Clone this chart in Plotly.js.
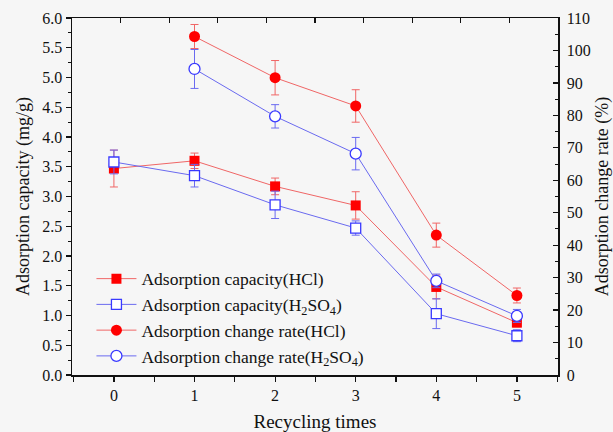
<!DOCTYPE html>
<html><head><meta charset="utf-8">
<script src="https://cdn.plot.ly/plotly-3.0.1.min.js"></script>
<style>html,body{margin:0;padding:0;background:#f6f6f6;}</style>
</head><body>
<div id="chart" style="width:613px;height:432px;"></div>
<script>
const cycles = [0, 1, 2, 3, 4, 5];
const capHCl = [3.47, 3.60, 3.17, 2.85, 1.48, 0.88];
const capHClErr = [0.31, 0.13, 0.14, 0.23, 0.20, 0.07];
const capH2SO4 = [3.58, 3.35, 2.86, 2.47, 1.03, 0.66];
const capH2SO4Err = [0.20, 0.19, 0.23, 0.12, 0.25, 0.10];
const rateCycles = [1, 2, 3, 4, 5];
const rateHCl = [104.3, 91.6, 82.9, 43.1, 24.5];
const rateHClErr = [3.7, 5.3, 5.0, 3.7, 2.3];
const rateH2SO4 = [94.3, 79.7, 68.2, 29.0, 18.2];
const rateH2SO4Err = [6.0, 3.6, 5.0, 2.1, 2.0];
const names = ['Adsorption capacity(HCl)', 'Adsorption capacity(H<sub>2</sub>SO<sub>4</sub>)',
               'Adsorption change rate(HCl)', 'Adsorption change rate(H<sub>2</sub>SO<sub>4</sub>)'];

const RED = '#ff0000', REDL = '#f06666', BLUE = '#3a3aff', BLUEL = '#6a6af0';
const F = 'Liberation Serif, Times New Roman, serif';

const traces = [
  {x: cycles, y: capHCl, name: names[0], type: 'scatter', mode: 'lines+markers',
   line: {color: REDL, width: 1}, marker: {symbol: 'square', size: 10, color: RED},
   error_y: {type: 'data', array: capHClErr, color: REDL, thickness: 1, width: 4}},
  {x: cycles, y: capH2SO4, name: names[1], type: 'scatter', mode: 'lines+markers',
   line: {color: BLUEL, width: 1}, marker: {symbol: 'square', size: 10, color: 'white', line: {color: BLUE, width: 1.3}},
   error_y: {type: 'data', array: capH2SO4Err, color: BLUEL, thickness: 1, width: 4}},
  {x: rateCycles, y: rateHCl, name: names[2], yaxis: 'y2', type: 'scatter', mode: 'lines+markers',
   line: {color: REDL, width: 1}, marker: {symbol: 'circle', size: 11, color: RED},
   error_y: {type: 'data', array: rateHClErr, color: REDL, thickness: 1, width: 4}},
  {x: rateCycles, y: rateH2SO4, name: names[3], yaxis: 'y2', type: 'scatter', mode: 'lines+markers',
   line: {color: BLUEL, width: 1}, marker: {symbol: 'circle', size: 11, color: 'white', line: {color: BLUE, width: 1.3}},
   error_y: {type: 'data', array: rateH2SO4Err, color: BLUEL, thickness: 1, width: 4}},
  {x: [0], y: [0], xaxis: 'x2', yaxis: 'y', type: 'scatter', mode: 'markers',
   marker: {opacity: 0}, showlegend: false, hoverinfo: 'skip'}
];

const layout = {
  width: 613, height: 432,
  margin: {l: 72, r: 55, t: 18, b: 57},
  paper_bgcolor: '#f6f6f6', plot_bgcolor: '#f6f6f6',
  font: {family: F, size: 16, color: '#111'},
  showlegend: true,
  legend: {x: 0.04, y: 0.32, xanchor: 'left', yanchor: 'top', bgcolor: 'rgba(0,0,0,0)',
           font: {family: F, size: 17.5, color: '#111'}, itemwidth: 40, tracegroupgap: 0},
  xaxis: {range: [-0.52, 5.51], tickvals: cycles, ticks: 'outside', ticklen: 5, tickwidth: 1.2,
          tickcolor: '#111', showline: true, linecolor: '#111', linewidth: 1.5, showgrid: false, zeroline: false,
          minor: {dtick: 0.5, ticks: 'outside', ticklen: 5, tickwidth: 1.2, tickcolor: '#111', showgrid: false},
          tickfont: {family: F, size: 16},
          title: {text: 'Recycling times', font: {family: F, size: 19}, standoff: 12}},
  xaxis2: {overlaying: 'x', side: 'top', anchor: 'y', range: [0, 10], dtick: 1, ticks: 'inside', ticklen: 5,
           tickwidth: 1.2, tickcolor: '#111', showticklabels: false, showline: true, linecolor: '#111',
           linewidth: 1.5, showgrid: false, zeroline: false},
  yaxis: {range: [0, 6], dtick: 0.5, tickformat: '.1f', ticks: 'outside', ticklen: 5, tickwidth: 1.2,
          tickcolor: '#111', showline: true, linecolor: '#111', linewidth: 1.5, showgrid: false, zeroline: false,
          minor: {dtick: 0.25, ticks: 'outside', ticklen: 3, tickwidth: 1, tickcolor: '#111', showgrid: false},
          tickfont: {family: F, size: 16},
          title: {text: 'Adsorption capacity (mg/g)', font: {family: F, size: 18}, standoff: 8}},
  yaxis2: {overlaying: 'y', side: 'right', anchor: 'x', range: [0, 110], dtick: 10, ticks: 'inside', ticklen: 5,
           tickwidth: 1.2, tickcolor: '#111', showline: true, linecolor: '#111', linewidth: 1.5,
           showgrid: false, zeroline: false, ticklabelstandoff: 4,
           minor: {dtick: 5, ticks: 'inside', ticklen: 3, tickwidth: 1, tickcolor: '#111', showgrid: false},
           tickfont: {family: F, size: 16},
           title: {text: 'Adsorption change rate (%)', font: {family: F, size: 18}, standoff: 8}}
};

Plotly.newPlot('chart', traces, layout, {displayModeBar: false, staticPlot: true});
</script>
</body></html>
